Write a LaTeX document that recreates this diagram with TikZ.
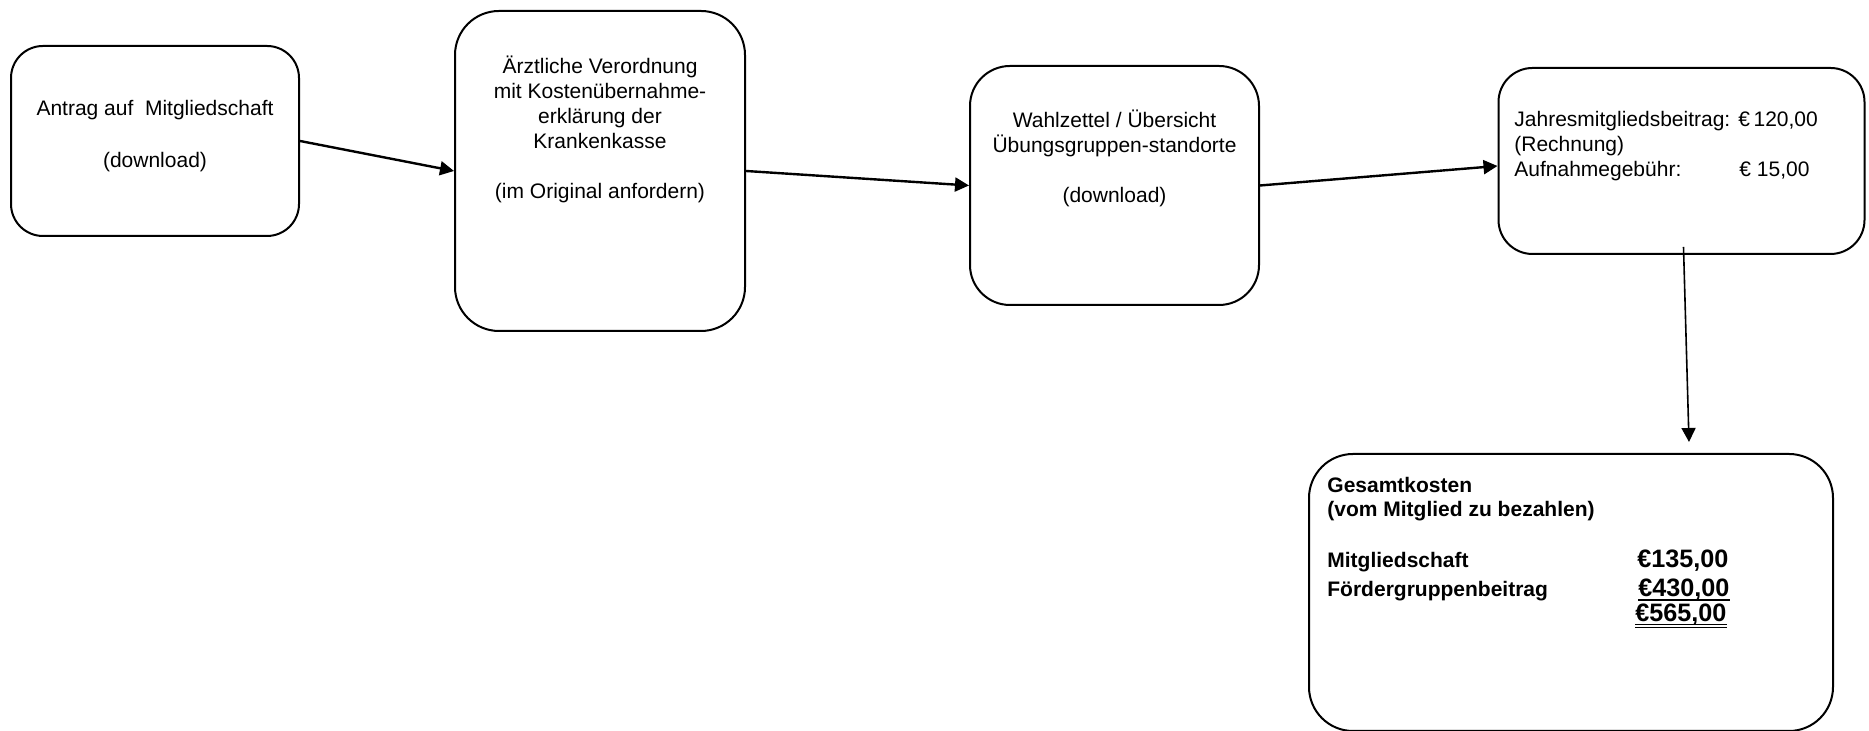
\documentclass[tikz,border=0pt]{standalone}
\usepackage{fontspec}
\setmainfont{Liberation Sans}
\usetikzlibrary{arrows.meta,calc}
\begin{document}
\begin{tikzpicture}[x=0.5pt,y=0.5pt,
  box/.style={draw,line width=1pt,inner sep=0pt},
  txt/.style={inner sep=0pt,font=\fontsize{10.5pt}{12.5pt}\selectfont},
  btxt/.style={inner sep=0pt,font=\fontsize{10.5pt}{12.5pt}\selectfont\bfseries},
  amt/.style={inner sep=0pt,font=\fontsize{12.6pt}{14pt}\selectfont\bfseries},
  conn/.style={line width=1.2pt,-{Triangle[length=7pt,width=7pt]}}]
\useasboundingbox (0,0) rectangle (1869,731);
% boxes
\node[box,rounded corners=16pt,minimum width=144pt,minimum height=95pt] (b1) at (155,590) {};
\node[box,rounded corners=22pt,minimum width=145pt,minimum height=160pt] (b2) at (600,560) {};
\node[box,rounded corners=20pt,minimum width=144.5pt,minimum height=119.5pt] (b3) at (1114.5,545.5) {};
\node[box,rounded corners=17pt,minimum width=183pt,minimum height=93pt] (b4) at (1681.5,570) {};
\node[box,rounded corners=22pt,minimum width=262pt,minimum height=138.5pt] (b5) at (1571,138.5) {};
% box 1 text
\node[txt,anchor=base] (t1a) at (155,615) {Antrag auf\ \ Mitgliedschaft};
\node[txt,anchor=base] (t1b) at (155,563) {(download)};
% box 2 text
\node[txt,anchor=base] (t2a) at (600,657) {Ärztliche Verordnung};
\node[txt,anchor=base] (t2b) at (600,632) {mit Kostenübernahme-};
\node[txt,anchor=base] (t2c) at (600,607) {erklärung der};
\node[txt,anchor=base] (t2d) at (600,582) {Krankenkasse};
\node[txt,anchor=base] (t2e) at (600,532) {(im Original anfordern)};
% box 3 text
\node[txt,anchor=base] (t3a) at (1114.5,603) {Wahlzettel / Übersicht};
\node[txt,anchor=base] (t3b) at (1114.5,578) {Übungsgruppen-standorte};
\node[txt,anchor=base] (t3c) at (1114.5,528) {(download)};
% box 4 text
\node[txt,anchor=base west] (t4a) at (1514,604) {Jahresmitgliedsbeitrag:};
\node[txt,anchor=base west] (t4am) at (1738,604) {€\,120,00};
\node[txt,anchor=base west] (t4b) at (1514,579) {(Rechnung)};
\node[txt,anchor=base west] (t4c) at (1514,554) {Aufnahmegebühr:};
\node[txt,anchor=base west] (t4cm) at (1739,554) {€ 15,00};
% box 5 text
\node[btxt,anchor=base west] (t5a) at (1327,238) {Gesamtkosten};
\node[btxt,anchor=base west] (t5b) at (1327,214) {(vom Mitglied zu bezahlen)};
\node[btxt,anchor=base west] (t5c) at (1327,163) {Mitgliedschaft};
\node[btxt,anchor=base west] (t5d) at (1327,134) {Fördergruppenbeitrag};
\node[amt,anchor=base west] (m1) at (1637,163) {€135,00};
\node[amt,anchor=base west] (m2) at (1638,134) {€430,00};
\node[amt,anchor=base west] (m3) at (1635,109) {€565,00};
\draw[line width=1.2pt] ([yshift=-1.6pt]m2.base west) -- ([yshift=-1.6pt]m2.base east);
\draw[line width=0.5pt] ([yshift=-1.3pt]m3.base west) -- ([yshift=-1.3pt]m3.base east);
\draw[line width=0.5pt] ([yshift=-2.6pt]m3.base west) -- ([yshift=-2.6pt]m3.base east);
% connectors
\draw[conn] (b1.east) -- (b2.west);
\draw[conn] (b2.east) -- (b3.west);
\draw[conn] (b3.east) -- ([yshift=-2.5pt]b4.west);
\coordinate (a4s) at ($(b4.south)+(2,8)$);
\coordinate (a4e) at ($(b5.north)+(118,11)$);
\draw[conn,line width=0.8pt] (a4s) -- (a4e);
\end{tikzpicture}
\end{document}
